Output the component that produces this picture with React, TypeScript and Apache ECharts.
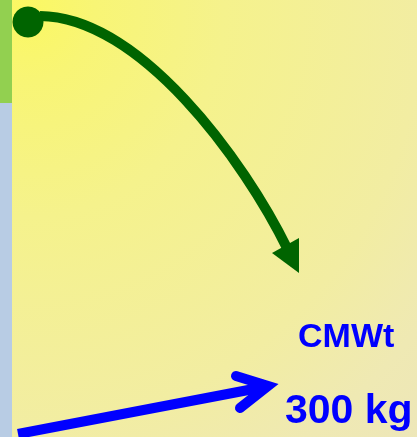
import React, { useEffect, useRef } from "react";
import * as echarts from "echarts";

const W = 417;
const H = 437;

// Green curved arrow: start, control 1, control 2, end (page pixels used as axis values)
const greenCurve: number[][] = [[40, 16], [140, 17], [244, 160], [288, 250]];
const greenDot: number[][] = [[28, 22]];
const greenHead: number[][] = [[272, 253], [299, 273], [299, 238]];

// Blue straight arrow
const blueShaft: number[][] = [[18, 434], [264, 387]];
const blueHead: number[][] = [[236, 376], [268, 386], [240, 408]];

const labels: string[] = ["CMWt", "300 kg"];

export default function App() {
  const ref = useRef<HTMLDivElement>(null);
  useEffect(() => {
    document.body.style.margin = "0";
    const chart = echarts.init(ref.current!, null, { renderer: "svg", width: W, height: H });
    const font = "'Liberation Sans', Arial, sans-serif";
    chart.setOption({
      animation: false,
      grid: { left: 0, right: 0, top: 0, bottom: 0 },
      xAxis: { type: "value", min: 0, max: W, show: false },
      yAxis: { type: "value", min: 0, max: H, inverse: true, show: false },
      graphic: [
        {
          type: "rect",
          z: -10,
          shape: { x: 0, y: 0, width: W, height: H },
          style: {
            fill: new echarts.graphic.RadialGradient(0.06, 0.02, 1.4, [
              { offset: 0, color: "#fbf862" },
              { offset: 0.12, color: "#f8f575" },
              { offset: 0.34, color: "#f5f28c" },
              { offset: 0.68, color: "#f2eda2" },
              { offset: 0.85, color: "#efe9b3" },
              { offset: 1, color: "#ede6ba" },
            ]),
          },
        },
        { type: "rect", z: -5, shape: { x: 0, y: 0, width: 12, height: 103 }, style: { fill: "#92d050" } },
        { type: "rect", z: -5, shape: { x: 0, y: 103, width: 12, height: H - 103 }, style: { fill: "#b8cce4" } },
        {
          type: "text",
          x: 298,
          y: 335,
          style: { text: labels[0], fill: "#0000ff", font: `bold 34px ${font}`, textAlign: "left", textVerticalAlign: "middle" },
        },
        {
          type: "text",
          x: 285,
          y: 409,
          style: { text: labels[1], fill: "#0000ff", font: `bold 41px ${font}`, textAlign: "left", textVerticalAlign: "middle" },
        },
      ],
      series: [
        {
          type: "custom",
          data: [0],
          silent: true,
          clip: false,
          renderItem: (_p: any, api: any) => {
            const [p0, c1, c2, p3] = greenCurve.map((pt) => api.coord(pt));
            return {
              type: "bezierCurve",
              shape: { x1: p0[0], y1: p0[1], cpx1: c1[0], cpy1: c1[1], cpx2: c2[0], cpy2: c2[1], x2: p3[0], y2: p3[1] },
              style: { stroke: "#006400", lineWidth: 10, fill: "none", lineCap: "butt" },
            };
          },
        },
        {
          type: "scatter",
          data: greenDot,
          symbolSize: 31,
          silent: true,
          itemStyle: { color: "#006400", opacity: 1 },
        },
        {
          type: "custom",
          data: [0],
          silent: true,
          renderItem: (_p: any, api: any) => ({
            type: "polygon",
            shape: { points: greenHead.map((pt) => api.coord(pt)) },
            style: { fill: "#006400" },
          }),
        },
        {
          type: "line",
          data: blueShaft,
          symbol: "none",
          silent: true,
          clip: false,
          lineStyle: { color: "#0000ff", width: 10, cap: "butt" },
        },
        {
          type: "line",
          data: blueHead,
          symbol: "none",
          silent: true,
          clip: false,
          lineStyle: { color: "#0000ff", width: 10, cap: "round", join: "miter" },
        },
      ],
    });
    return () => chart.dispose();
  }, []);
  return <div ref={ref} style={{ position: "fixed", left: 0, top: 0, width: W, height: H }} />;
}
